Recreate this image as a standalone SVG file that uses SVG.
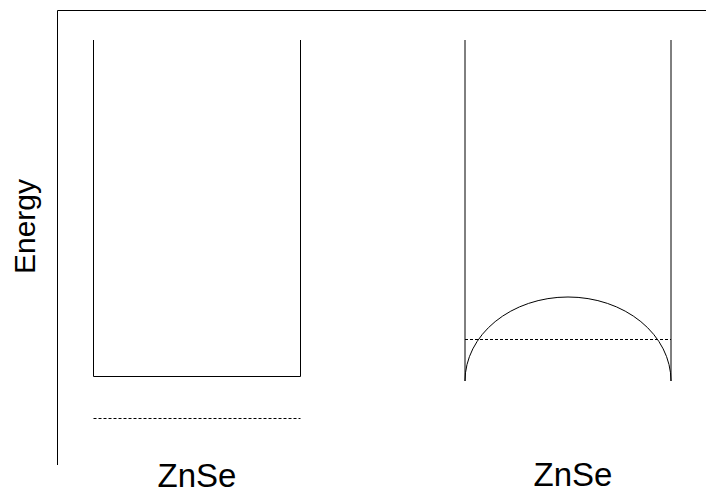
<svg xmlns="http://www.w3.org/2000/svg" width="706" height="494" viewBox="0 0 706 494">
<style>
.ln{fill:none;stroke:#000;stroke-width:1}
.dash{fill:none;stroke:#000;stroke-width:1;stroke-dasharray:3,2}
.t{font-family:"Liberation Sans",Arial,sans-serif;fill:#000}
</style>
<rect width="706" height="494" fill="#fff"/>
<g id="axes">
<path class="ln" d="M57.5,465 V10.5 H706"/>
<text class="t" font-size="30" text-anchor="middle" transform="translate(34.5,226.5) rotate(-90)">Energy</text>
</g>
<g id="well-left">
<path class="ln" d="M93.5,40 V376.5 H300.5 V40"/>
<line class="dash" x1="93.5" y1="418.5" x2="300.5" y2="418.5"/>
<text class="t" font-size="33" text-anchor="middle" x="197" y="487">ZnSe</text>
</g>
<g id="well-right">
<path class="ln" d="M465,40 V381 M671,40 V381"/>
<path class="ln" d="M465,381 A103,84 0 0 1 671,381"/>
<line class="dash" x1="465" y1="339.5" x2="671" y2="339.5"/>
<text class="t" font-size="33" text-anchor="middle" x="573" y="486">ZnSe</text>
</g>
</svg>
